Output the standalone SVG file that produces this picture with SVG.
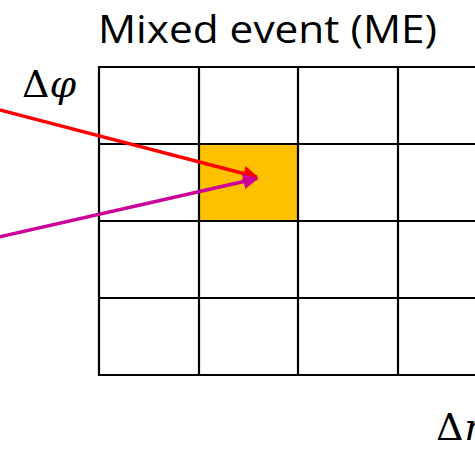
<svg xmlns="http://www.w3.org/2000/svg" width="475" height="452" viewBox="0 0 475 452">
<defs>
<style>
.grid line{stroke:#000;stroke-width:2.2}
.lbl{font-family:"Open Sans","Liberation Sans",sans-serif;fill:#000}
.math{font-family:"DejaVu Serif","Liberation Serif",serif;fill:#000}
</style>
<marker id="ah-red" viewBox="0 0 10 10" refX="9" refY="5" markerWidth="4.5" markerHeight="4.5" orient="auto" markerUnits="strokeWidth"><path d="M0,0 L10,5 L0,10 z" fill="#FF0000"/></marker>
<marker id="ah-mag" viewBox="0 0 10 10" refX="9" refY="5" markerWidth="4.5" markerHeight="4.5" orient="auto" markerUnits="strokeWidth"><path d="M0,0 L10,5 L0,10 z" fill="#CC0099"/></marker>
</defs>
<rect width="475" height="452" fill="#fff"/>
<g id="title"><text class="lbl" x="98" y="43" font-size="38" textLength="339" lengthAdjust="spacingAndGlyphs">Mixed event (ME)</text></g>
<g id="cell-highlight"><rect x="199" y="144" width="99" height="77" fill="#FFC000"/></g>
<g id="grid" class="grid">
<line x1="99" y1="67" x2="475" y2="67"/>
<line x1="99" y1="144" x2="475" y2="144"/>
<line x1="99" y1="221" x2="475" y2="221"/>
<line x1="99" y1="298" x2="475" y2="298"/>
<line x1="99" y1="375" x2="475" y2="375"/>
<line x1="99" y1="66" x2="99" y2="376"/>
<line x1="199" y1="66" x2="199" y2="376"/>
<line x1="298" y1="66" x2="298" y2="376"/>
<line x1="398" y1="66" x2="398" y2="376"/>
</g>
<g id="axis-phi"><text class="math" x="22" y="97" font-size="38">Δ<tspan font-style="italic">φ</tspan></text></g>
<g id="axis-eta"><text class="math" x="436" y="440" font-size="38">Δ<tspan font-style="italic">η</tspan></text></g>
<g id="connectors">
<line x1="-5" y1="108.7" x2="257" y2="177" stroke="#FF0000" stroke-width="3.4" marker-end="url(#ah-red)"/>
<line x1="-5" y1="238" x2="257" y2="178.5" stroke="#CC0099" stroke-width="3.4" marker-end="url(#ah-mag)"/>
</g>
</svg>
